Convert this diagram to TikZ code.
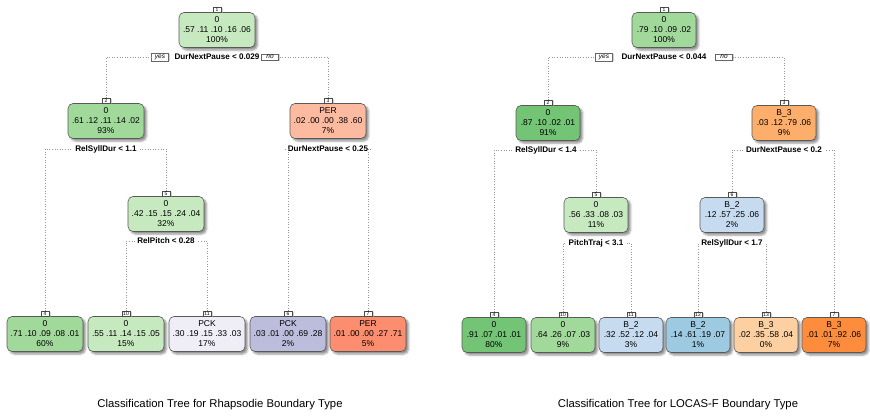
\documentclass[tikz,border=0pt]{standalone}
\usepackage{fontspec}
\setmainfont{Liberation Sans}
\usetikzlibrary{shadows,shadows.blur}
\definecolor{grnA}{HTML}{C7E9C0}
\definecolor{grnB}{HTML}{A1D99B}
\definecolor{grnC}{HTML}{74C476}
\definecolor{purA}{HTML}{EFEDF5}
\definecolor{purB}{HTML}{BCBDDC}
\definecolor{redA}{HTML}{FCBBA1}
\definecolor{redB}{HTML}{FC8D6E}
\definecolor{bluA}{HTML}{C6DBEF}
\definecolor{bluB}{HTML}{9ECAE1}
\definecolor{orgA}{HTML}{FDD0A2}
\definecolor{orgB}{HTML}{FDAE6B}
\definecolor{orgC}{HTML}{FD8D3C}
\begin{document}
\begin{tikzpicture}[
    x = 1pt, y = -1pt,
    vtx/.style = {draw=black!65, fill=#1, rounded corners=5pt, line width=.6pt,
      minimum height=35pt, inner sep=1pt, align=center,
      font=\fontsize{8.5}{10}\selectfont,
      blur shadow={shadow xshift=2.5pt, shadow yshift=-2.5pt,
        shadow blur radius=2pt, shadow opacity=45}},
    lvtx/.style = {vtx=#1, minimum width=76pt},
    rvtx/.style = {vtx=#1, minimum width=64pt},
    tag/.style = {draw=black!70, fill=white, inner sep=.7pt, minimum width=8pt,
      font=\fontsize{5}{5.5}\selectfont,
      drop shadow={shadow xshift=2pt, shadow yshift=-.5pt, fill=black!35}},
    split/.style = {font=\bfseries\fontsize{8.1}{10}\selectfont, inner sep=2.5pt},
    yn/.style = {draw=black!60, fill=white, inner sep=1.3pt, minimum width=17pt,
      font=\itshape\fontsize{6.5}{7}\selectfont,
      drop shadow={shadow xshift=1.5pt, shadow yshift=-.5pt, fill=black!35}},
    edge/.style = {draw=black!40, dotted, line width=.6pt},
    treecap/.style = {font=\fontsize{11.3}{13}\selectfont},
  ]
  \useasboundingbox (0,0) rectangle (870,415);

  % Rhapsodie
  \node[lvtx=grnA, label={[tag,name=l1t]above:1}] (l1) at (217,30) {0\\.57 .11 .10 .16 .06\\100\%};
  \node[yn] (l1y) at (160,57) {yes};
  \node[split] (l1s) at (217,57) {DurNextPause < 0.029};
  \node[yn] (l1n) at (270,57) {no};
  \node[lvtx=grnB, label={[tag,name=l2t]above:2}] (l2) at (106,121) {0\\.61 .12 .11 .14 .02\\93\%};
  \node[split] (l2s) at (106,149) {RelSyllDur < 1.1};
  \node[lvtx=redA, label={[tag,name=l3t]above:3}] (l3) at (328,121) {PER\\.02 .00 .00 .38 .60\\7\%};
  \node[split] (l3s) at (328,149) {DurNextPause < 0.25};
  \node[lvtx=grnA, label={[tag,name=l5t]above:5}] (l5) at (166,214) {0\\.42 .15 .15 .24 .04\\32\%};
  \node[split] (l5s) at (166,241) {RelPitch < 0.28};
  \node[lvtx=grnB, label={[tag,name=l4t]above:4}] (l4) at (45,334) {0\\.71 .10 .09 .08 .01\\60\%};
  \node[lvtx=grnA, label={[tag,name=l10t]above:10}] (l10) at (126,334) {0\\.55 .11 .14 .15 .05\\15\%};
  \node[lvtx=purA, label={[tag,name=l11t]above:11}] (l11) at (207,334) {PCK\\.30 .19 .15 .33 .03\\17\%};
  \node[lvtx=purB, label={[tag,name=l6t]above:6}] (l6) at (288,334) {PCK\\.03 .01 .00 .69 .28\\2\%};
  \node[lvtx=redB, label={[tag,name=l7t]above:7}] (l7) at (368,334) {PER\\.01 .00 .00 .27 .71\\5\%};
  \draw[edge] (l2t.north) |- (l1y.west);
  \draw[edge] (l3t.north) |- (l1n.east);
  \draw[edge] (l4t.north) |- (l2s.west);
  \draw[edge] (l5t.north) |- (l2s.east);
  \draw[edge] (l6t.north) |- (l3s.west);
  \draw[edge] (l7t.north) |- (l3s.east);
  \draw[edge] (l10t.north) |- (l5s.west);
  \draw[edge] (l11t.north) |- (l5s.east);
  \node[treecap] (capl) at (220,405) {Classification Tree for Rhapsodie Boundary Type};

  % LOCAS-F
  \node[rvtx=grnB, label={[tag,name=r1t]above:1}] (r1) at (664,30) {0\\.79 .10 .09 .02\\100\%};
  \node[yn] (r1y) at (604,57) {yes};
  \node[split] (r1s) at (664,57) {DurNextPause < 0.044};
  \node[yn] (r1n) at (724,57) {no};
  \node[rvtx=grnC, label={[tag,name=r2t]above:2}] (r2) at (548,123) {0\\.87 .10 .02 .01\\91\%};
  \node[split] (r2s) at (546,150) {RelSyllDur < 1.4};
  \node[rvtx=orgB, label={[tag,name=r3t]above:3}] (r3) at (784,123) {B\_3\\.03 .12 .79 .06\\9\%};
  \node[split] (r3s) at (784,150) {DurNextPause < 0.2};
  \node[rvtx=grnA, label={[tag,name=r5t]above:5}] (r5) at (596,215) {0\\.56 .33 .08 .03\\11\%};
  \node[split] (r5s) at (596,243) {PitchTraj < 3.1};
  \node[rvtx=bluA, label={[tag,name=r6t]above:6}] (r6) at (732,215) {B\_2\\.12 .57 .25 .06\\2\%};
  \node[split] (r6s) at (732,243) {RelSyllDur < 1.7};
  \node[rvtx=grnC, label={[tag,name=r4t]above:4}] (r4) at (494,335) {0\\.91 .07 .01 .01\\80\%};
  \node[rvtx=grnB, label={[tag,name=r10t]above:10}] (r10) at (563,335) {0\\.64 .26 .07 .03\\9\%};
  \node[rvtx=bluA, label={[tag,name=r11t]above:11}] (r11) at (631,335) {B\_2\\.32 .52 .12 .04\\3\%};
  \node[rvtx=bluB, label={[tag,name=r12t]above:12}] (r12) at (698,335) {B\_2\\.14 .61 .19 .07\\1\%};
  \node[rvtx=orgA, label={[tag,name=r13t]above:13}] (r13) at (766,335) {B\_3\\.02 .35 .58 .04\\0\%};
  \node[rvtx=orgC, label={[tag,name=r7t]above:7}] (r7) at (834,335) {B\_3\\.01 .01 .92 .06\\7\%};
  \draw[edge] (r2t.north) |- (r1y.west);
  \draw[edge] (r3t.north) |- (r1n.east);
  \draw[edge] (r4t.north) |- (r2s.west);
  \draw[edge] (r5t.north) |- (r2s.east);
  \draw[edge] (r6t.north) |- (r3s.west);
  \draw[edge] (r7t.north) |- (r3s.east);
  \draw[edge] (r10t.north) |- (r5s.west);
  \draw[edge] (r11t.north) |- (r5s.east);
  \draw[edge] (r12t.north) |- (r6s.west);
  \draw[edge] (r13t.north) |- (r6s.east);
  \node[treecap] (capr) at (678,405) {Classification Tree for LOCAS-F Boundary Type};
\end{tikzpicture}
\end{document}
